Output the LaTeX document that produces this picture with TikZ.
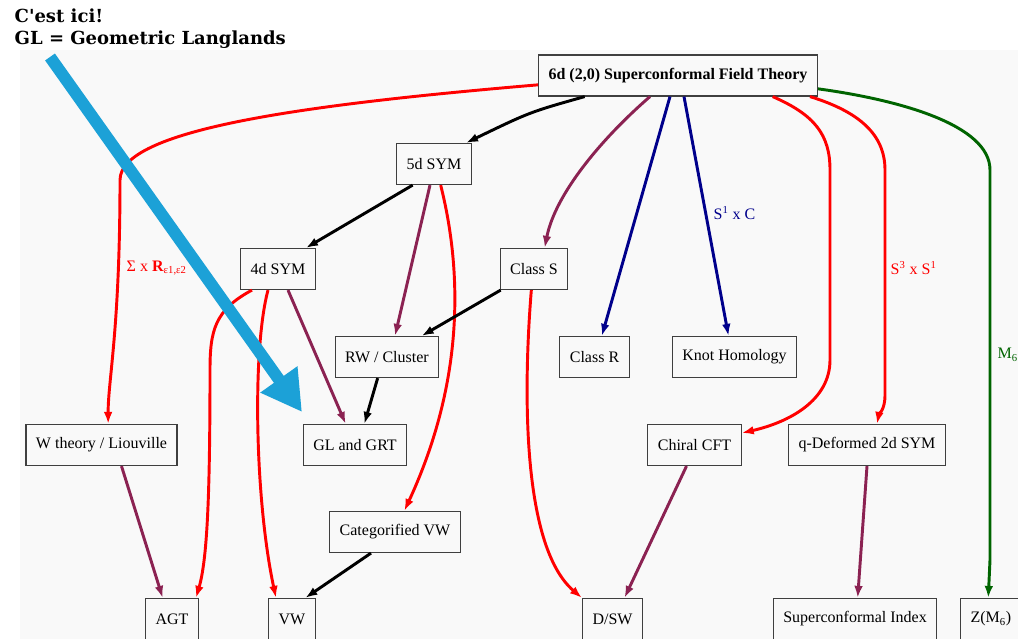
\documentclass[tikz,border=0pt]{standalone}
\usepackage{fontspec}
\setmainfont{Liberation Serif}
\newfontfamily\notefont{DejaVu Serif}
\usetikzlibrary{arrows.meta}

\definecolor{paper}{HTML}{F9F9F9}
\definecolor{boxline}{HTML}{3F3F3F}
\definecolor{linkred}{HTML}{FF0000}
\definecolor{linkpurple}{HTML}{8B2252}
\definecolor{linknavy}{HTML}{00008B}
\definecolor{linkgreen}{HTML}{006400}
\definecolor{pointer}{HTML}{1CA1D7}

\tikzset{
  theory/.style={draw=boxline, line width=0.9pt, minimum height=30.75pt, inner xsep=7.5pt},
  link/.style={draw, ->, line width=2.2pt},
  redlink/.style={link, linkred},
  purplelink/.style={link, linkpurple},
  navylink/.style={link, linknavy},
  greenlink/.style={link, linkgreen},
  blacklink/.style={link, black},
  note/.style={font=\notefont\bfseries\fontsize{13.5}{16}\selectfont, anchor=base west},
}

\begin{document}
\begin{tikzpicture}[x=0.75pt,y=-0.75pt,>={Latex[length=9pt,width=6.5pt]},
    font=\fontsize{12}{14}\selectfont]
    \useasboundingbox (0,0) rectangle (1018,639);
    \clip (0,0) rectangle (1018,639);
    \fill[paper] (20,50) rectangle (1018,639);

    \node (note1) [note] at (10,22) {C'est ici!};
    \node (note2) [note] at (10,44) {GL = Geometric Langlands};

    % theories
    \node (sixd) [theory] at (678,75.5) {\bfseries 6d (2,0) Superconformal Field Theory};
    \node (fived) [theory] at (434,164) {5d SYM};
    \node (fourd) [theory] at (278,269) {4d SYM};
    \node (cls) [theory] at (534,269) {Class S};
    \node (rw) [theory] at (387,357) {RW / Cluster};
    \node (clr) [theory] at (594.5,357) {Class R};
    \node (knot) [theory] at (734.5,357) {Knot Homology};
    \node (wth) [theory] at (101.5,445) {W theory / Liouville};
    \node (gl) [theory] at (355,445) {GL and GRT};
    \node (chiral) [theory] at (694.5,445) {Chiral CFT};
    \node (qdef) [theory] at (867,445) {q-Deformed 2d SYM};
    \node (catvw) [theory] at (395,532) {Categorified VW};
    \node (agt) [theory] at (172,619) {AGT};
    \node (vw) [theory] at (292,619) {VW};
    \node (dsw) [theory] at (612.5,619) {D/SW};
    \node (si) [theory] at (855,619) {Superconformal Index};
    \node (zm) [theory, anchor=west] at (960,619) {Z(M\textsubscript{6})};

    % edge labels
    \node (lsigma) [anchor=west, text=linkred] at (122,268) {Σ x \textbf{R}\textsubscript{ε1,ε2}};
    \node (lsc) [anchor=west, text=linknavy] at (709,213) {S\textsuperscript{1} x C};
    \node (lss) [anchor=west, text=linkred] at (886,268) {S\textsuperscript{3} x S\textsuperscript{1}};
    \node (lm) [anchor=west, text=linkgreen] at (993,355) {M\textsubscript{6}};

    % from 6d
    \draw[redlink] ([yshift=-7pt]sixd.west) .. controls (300,105) and (120,130) .. (120,180)
      .. controls (120,330) and (108,380) .. ([xshift=5pt]wth.north);
    \draw[blacklink] ([xshift=-70pt]sixd.south) .. controls (530,112) .. ([xshift=24pt]fived.north);
    \draw[purplelink] ([xshift=-21pt]sixd.south) .. controls (600,140) and (555,195) .. ([xshift=8pt]cls.north);
    \path
      ([xshift=-6pt]sixd.south) edge[navylink] ([xshift=5.5pt]clr.north)
      ([xshift=4.5pt]sixd.south) edge[navylink] ([xshift=-4.5pt]knot.north)
    ;
    \draw[redlink] ([xshift=71pt]sixd.south) .. controls (815,115) and (830,135) .. (830,170)
      -- (830,360) .. controls (830,400) and (790,422) .. ([yshift=9pt]chiral.east);
    \draw[redlink] ([xshift=-6pt]sixd.south east) .. controls (860,112) and (885,135) .. (885,170)
      -- (885,395) .. controls (885,410) and (879,414) .. ([xshift=7.5pt]qdef.north);
    \draw[greenlink] ([yshift=-10pt]sixd.east) .. controls (900,100) and (990,125) .. (990,170)
      -- (990,560) -- ([xshift=-2pt]zm.north);

    % from 5d and 4d
    \draw[blacklink] ([xshift=-16pt]fived.south) -- ([xshift=21pt]fourd.north);
    \draw[purplelink] ([xshift=-3pt]fived.south) -- ([xshift=6pt]rw.north);
    \draw[redlink] ([xshift=5pt]fived.south) .. controls (462,270) and (465,380) .. ([xshift=7pt]catvw.north);
    \draw[redlink] ([xshift=-19.5pt]fourd.south) .. controls (215,310) and (210,330) .. (210,370)
      .. controls (210,500) and (207,560) .. ([xshift=18pt]agt.north);
    \draw[redlink] ([xshift=-7.5pt]fourd.south) .. controls (252,350) and (255,500) .. ([xshift=-12pt]vw.north);
    \draw[purplelink] ([xshift=7.5pt]fourd.south) -- ([xshift=-7pt]gl.north);

    % from class S
    \draw[blacklink] ([xshift=-25pt]cls.south) -- ([xshift=26pt]rw.north);
    \draw[redlink] ([xshift=-2pt]cls.south) .. controls (524,380) and (520,545) .. (dsw.north west);

    % lower rows
    \path
      ([xshift=-7pt]rw.south) edge[blacklink] ([xshift=7pt]gl.north)
      ([xshift=-18pt]catvw.south) edge[blacklink] ([xshift=10pt]vw.north)
      ([xshift=15pt]wth.south) edge[purplelink] ([xshift=-7pt]agt.north)
      ([xshift=-6pt]chiral.south) edge[purplelink] ([xshift=9pt]dsw.north)
      (qdef.south) edge[purplelink] ([xshift=2pt]si.north)
    ;

    % the pointer
    \coordinate (ptrstart) at (50,57);
    \coordinate (ptrend) at (302,412);
    \draw[-{Triangle[length=30pt,width=32pt]}, line width=9pt, pointer] (ptrstart) -- (ptrend);
\end{tikzpicture}
\end{document}
